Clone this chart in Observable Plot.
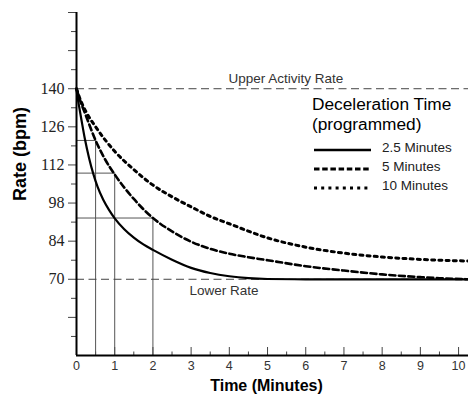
<!DOCTYPE html>
<html>
<head>
<meta charset="utf-8">
<script src="https://cdn.jsdelivr.net/npm/d3@7"></script>
<script src="https://cdn.jsdelivr.net/npm/@observablehq/plot@0.6"></script>
<style>
  html, body { margin: 0; padding: 0; background: #fff; }
  #chart svg { display: block; }
</style>
</head>
<body>
<div id="chart"></div>
<script>
// ---- Data ----
const solidTime  = [0, 0.02, 0.05, 0.13, 0.22, 0.33, 0.44, 0.55, 0.7, 0.85, 1, 1.25, 1.5, 1.75, 2, 2.5, 3, 3.5, 4, 4.5, 5, 6, 8, 10.26];
const solidRate  = [140, 137.5, 135, 128.5, 121.5, 114.5, 108.7, 104, 99.2, 95.5, 92.4, 88.4, 85.3, 82.8, 80.8, 77.2, 74.2, 72.3, 71.1, 70.4, 70.1, 70, 70, 70];

const dashedTime = [0, 0.1, 0.25, 0.5, 0.75, 1, 1.5, 2, 2.5, 3, 3.5, 4, 4.5, 5, 6, 7, 8, 9, 9.5, 10.26];
const dashedRate = [140, 135.5, 130, 121, 114, 108.5, 99.5, 92.5, 87.6, 83.8, 81.2, 79.4, 78.1, 77, 74.8, 73.2, 71.8, 70.8, 70.4, 70];

const dottedTime = [0, 0.1, 0.25, 0.5, 1, 1.5, 2, 2.5, 3, 3.5, 4, 5, 6, 7, 8, 9, 10.26];
const dottedRate = [140, 136, 131.5, 126, 117, 110.3, 104.6, 100.3, 96.6, 93.1, 90.4, 85.2, 81.8, 79.6, 78.2, 77.3, 76.7];

const guideTime = [0.5, 1, 2];
const guideRate = [121, 109, 92.5];

const upperRate = 140;
const lowerRate = 70;

const seriesNames = ["2.5 Minutes", "5 Minutes", "10 Minutes"];

const yLabelTicks = [70, 84, 98, 112, 126, 140];
const yMajorTicks = [56, 70, 84, 98, 112, 126, 140, 154, 168];
const yMinorTicks = [49, 63, 77, 91, 105, 119, 133, 147, 161];
const xMajorTicks = [0, 1, 2, 3, 4, 5, 6, 7, 8, 9, 10];
const xMinorTicks = [0.5, 1.5, 2.5, 3.5, 4.5, 5.5, 6.5, 7.5, 8.5, 9.5];

const yDomain = [42, 168];
const xDomain = [0, 10.26];

// ---- Tables ----
const toRows = (ts, rs) => ts.map((t, i) => ({t, rate: rs[i]}));
const solidRows = toRows(solidTime, solidRate);
const dashedRows = toRows(dashedTime, dashedRate);
const dottedRows = toRows(dottedTime, dottedRate);
const guideRows = guideTime.map((t, i) => ({t, rate: guideRate[i]}));

const sans = "Liberation Sans";
const serif = "Liberation Serif";

const chart = Plot.plot({
  width: 468,
  height: 400,
  marginLeft: 76,
  marginRight: 0,
  marginTop: 12,
  marginBottom: 45,
  x: {domain: xDomain},
  y: {domain: yDomain},
  style: {background: "#fff", color: "#000"},
  marks: [
    // y axis ticks
    Plot.axisY({ticks: yMajorTicks, tickSize: 8, stroke: "#444", tickFormat: () => "", label: null}),
    Plot.axisY({ticks: yMinorTicks, tickSize: 5, stroke: "#444", tickFormat: () => "", label: null}),
    // y tick labels (serif)
    Plot.text(yLabelTicks, {y: d => d, text: d => String(d), frameAnchor: "left", textAnchor: "end", dx: -12, fontSize: 16, fontFamily: serif, fill: "#222"}),
    // x axis ticks (inward) & labels
    Plot.axisX({ticks: xMajorTicks, tickSize: 8, dy: -8, stroke: "#444", tickFormat: () => "", label: null}),
    Plot.axisX({ticks: xMinorTicks, tickSize: 3.5, dy: -3.5, stroke: "#444", tickFormat: () => "", label: null}),
    Plot.axisX({ticks: xMajorTicks, tickSize: 0, tickPadding: 6, fontSize: 12.5, fill: "#333", label: null}),
    // guide boxes
    Plot.ruleX(guideRows, {x: "t", y1: yDomain[0], y2: "rate", stroke: "#555", strokeWidth: 1}),
    Plot.ruleY(guideRows, {y: "rate", x1: xDomain[0], x2: "t", stroke: "#555", strokeWidth: 1}),
    // reference rates
    Plot.ruleY([upperRate, lowerRate], {stroke: "#444", strokeWidth: 1, strokeDasharray: "8,4.5"}),
    Plot.text(["Upper Activity Rate"], {y: () => upperRate, frameAnchor: "left", textAnchor: "start", dx: 152, dy: -10, fontSize: 13.5, fontFamily: sans, fill: "#333"}),
    Plot.text(["Lower Rate"], {y: () => lowerRate, frameAnchor: "left", textAnchor: "start", dx: 113, dy: 11, fontSize: 13.5, fontFamily: sans, fill: "#333"}),
    // curves
    Plot.line(dottedRows, {x: "t", y: "rate", curve: "monotone-x", stroke: "#000", strokeWidth: 3, strokeDasharray: "3,4.2"}),
    Plot.line(dashedRows, {x: "t", y: "rate", curve: "monotone-x", stroke: "#000", strokeWidth: 2.6, strokeDasharray: "6,3.5"}),
    Plot.line(solidRows, {x: "t", y: "rate", curve: "monotone-x", stroke: "#000", strokeWidth: 2.2}),
    // axis lines
    Plot.ruleX([xDomain[0]], {stroke: "#000", strokeWidth: 2}),
    Plot.ruleY([yDomain[0]], {stroke: "#000", strokeWidth: 2}),
    // axis titles
    Plot.text(["Rate (bpm)"], {frameAnchor: "left", rotate: -90, dx: -56, dy: 17, fontSize: 18, fontWeight: "bold", fontFamily: sans, fill: "#000"}),
    Plot.text(["Time (Minutes)"], {frameAnchor: "bottom", dx: -6, dy: 35, fontSize: 16, fontWeight: "bold", fontFamily: sans, fill: "#000"})
  ]
});

const svg = d3.select(chart);
svg.attr("font-family", sans);
// make sure the y labels are serif, whatever the inherited styles
const yLabelStrings = new Set(yLabelTicks.map(String));
chart.querySelectorAll("text").forEach(el => {
  if (yLabelStrings.has(el.textContent.trim())) {
    el.setAttribute("font-family", serif);
    el.style.fontFamily = serif;
  }
});

// ---- Legend drawn inside the plot area ----
const lg = svg.append("g").attr("fill", "#000").attr("text-anchor", "start").attr("font-family", sans);
lg.append("text").attr("x", 312).attr("y", 110).attr("font-size", 17.3).text("Deceleration Time");
lg.append("text").attr("x", 312).attr("y", 129.5).attr("font-size", 17.3).text("(programmed)");
const dashes = [null, "5.5,2.7", "3,4.2"];
const widths = [2.6, 2.8, 3];
seriesNames.forEach((name, i) => {
  const yLine = 150 + i * 19;
  lg.append("line")
    .attr("x1", 314).attr("x2", 371)
    .attr("y1", yLine).attr("y2", yLine)
    .attr("stroke", "#000").attr("stroke-width", widths[i])
    .attr("stroke-dasharray", dashes[i]);
  lg.append("text").attr("x", 382).attr("y", yLine + 1.5)
    .attr("font-size", 13.5).attr("fill", "#222").text(name);
});

document.getElementById("chart").appendChild(chart);
</script>
</body>
</html>
